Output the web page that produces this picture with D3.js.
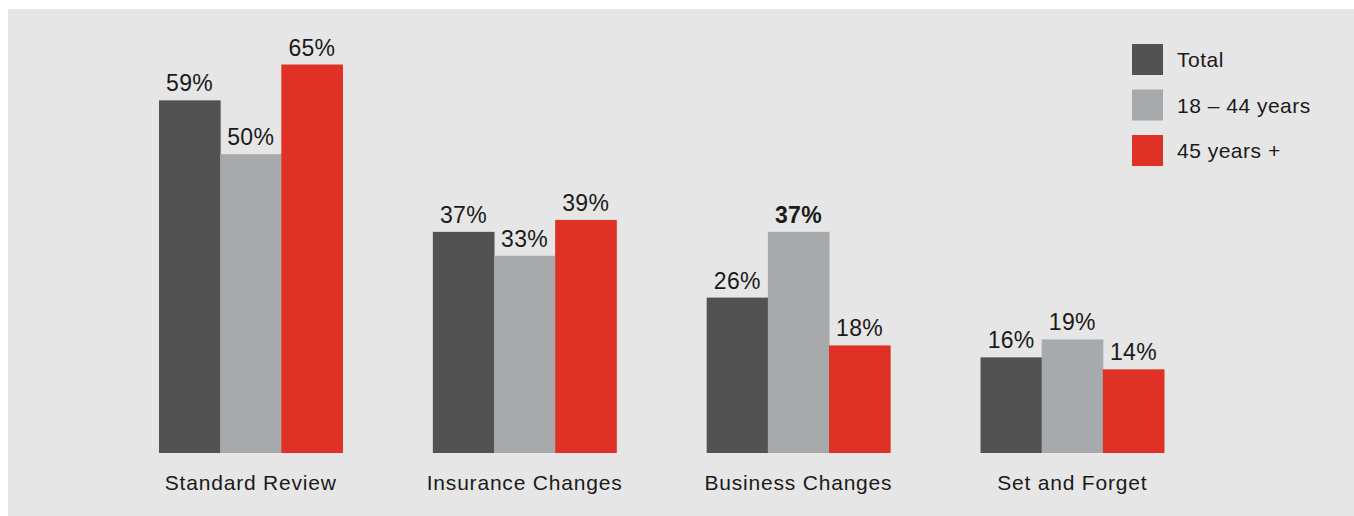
<!DOCTYPE html>
<html>
<head>
<meta charset="utf-8">
<script src="https://cdn.jsdelivr.net/npm/d3@7"></script>
<style>
  html, body { margin: 0; padding: 0; background: #ffffff; }
  svg { display: block; }
  text { font-family: "Liberation Sans", Arial, sans-serif; fill: #1a1a1a; }
</style>
</head>
<body>
<svg id="chart" width="1354" height="516"></svg>
<script>
// Review triggers by age group (percent of respondents)
const categories = ["Standard Review", "Insurance Changes", "Business Changes", "Set and Forget"];
const seriesNames = ["Total", "18 – 44 years", "45 years +"];
const total      = [59, 37, 26, 16];
const age18to44  = [50, 33, 37, 19];
const age45plus  = [65, 39, 18, 14];
// Values printed in bold (category index, series index)
const boldLabels = [[2, 1]];

const seriesValues = [total, age18to44, age45plus];
const colors = ["#525252", "#a7aaac", "#e03127"];

const width = 1354, height = 516;
const svg = d3.select("#chart");

// Panel background
svg.append("rect")
  .attr("x", 8).attr("y", 9)
  .attr("width", width - 8).attr("height", height - 9)
  .attr("fill", "#e6e6e6");

const baseline = 453;
const x0 = d3.scaleBand().domain(d3.range(categories.length))
  .range([159, 1164]).paddingInner(0.33).paddingOuter(0);
const x1 = d3.scaleBand().domain(d3.range(seriesNames.length))
  .range([0, x0.bandwidth()]).padding(0);
const y = d3.scaleLinear().domain([0, 65]).range([baseline, 64.5]);

const rows = categories.map((c, i) => ({
  cat: i,
  bars: seriesValues.map((s, j) => ({ cat: i, ser: j, value: s[i] }))
}));

const groups = svg.append("g").selectAll("g")
  .data(rows).join("g")
  .attr("transform", d => `translate(${x0(d.cat)},0)`);

groups.selectAll("rect")
  .data(d => d.bars).join("rect")
  .attr("x", d => x1(d.ser))
  .attr("y", d => y(d.value))
  .attr("width", x1.bandwidth() + 0.5)
  .attr("height", d => baseline - y(d.value))
  .attr("fill", d => colors[d.ser]);

const isBold = d => boldLabels.some(([c, s]) => c === d.cat && s === d.ser);

groups.selectAll("text.value")
  .data(d => d.bars).join("text")
  .attr("class", "value")
  .attr("x", d => x1(d.ser) + x1.bandwidth() / 2)
  .attr("y", d => y(d.value) - 9)
  .attr("text-anchor", "middle")
  .style("font-size", "23px")
  .style("letter-spacing", "0.3px")
  .style("font-weight", d => isBold(d) ? "bold" : "normal")
  .text(d => d.value + "%");

// Category axis labels
const xAxis = d3.axisBottom(x0).tickSize(0).tickPadding(0)
  .tickFormat(i => categories[i]);
const axisG = svg.append("g")
  .attr("transform", `translate(0,${baseline})`)
  .call(xAxis);
axisG.select(".domain").remove();
axisG.selectAll("text")
  .attr("y", 37)
  .attr("dy", null)
  .style("font-size", "21px")
  .style("letter-spacing", "0.8px")
  .style("font-family", "'Liberation Sans', Arial, sans-serif")
  .attr("fill", "#1a1a1a");

// Legend
const legend = svg.append("g").attr("transform", "translate(1132,44)");
const items = legend.selectAll("g")
  .data(seriesNames).join("g")
  .attr("transform", (d, i) => `translate(0,${i * 45.5})`);
items.append("rect")
  .attr("width", 31).attr("height", 31)
  .attr("fill", (d, i) => colors[i]);
items.append("text")
  .attr("x", 45).attr("y", 23)
  .style("font-size", "21px")
  .style("letter-spacing", "0.5px")
  .text(d => d);
</script>
</body>
</html>
